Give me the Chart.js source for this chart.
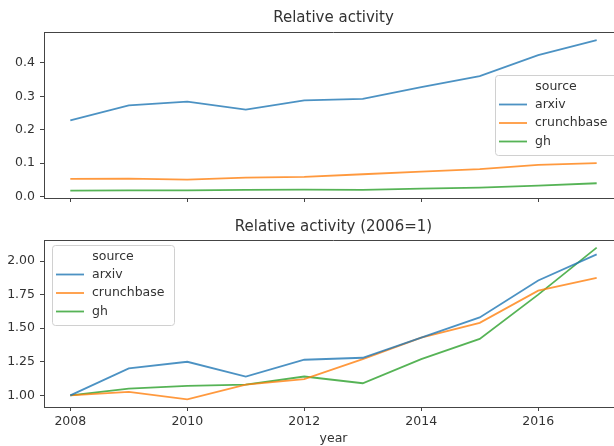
<!DOCTYPE html>
<html>
<head>
<meta charset="utf-8">
<script src="https://cdn.jsdelivr.net/npm/chart.js@4/dist/chart.umd.min.js"></script>
<style>
  html, body { margin: 0; padding: 0; background: #fff; overflow: hidden; width: 614px; height: 446px; }
  canvas { position: absolute; left: 0; }
  #top { top: 0; }
  #bottom { top: 215px; }
</style>
</head>
<body>
<canvas id="top" width="640" height="215"></canvas>
<canvas id="bottom" width="640" height="231"></canvas>
<script>
// данные
const years = [2008, 2009, 2010, 2011, 2012, 2013, 2014, 2015, 2016, 2017];
const sources = ['arxiv', 'crunchbase', 'gh'];

// доля активности
const shareArxiv      = [0.228, 0.273, 0.284, 0.260, 0.288, 0.292, 0.327, 0.360, 0.423, 0.468];
const shareCrunchbase = [0.053, 0.054, 0.051, 0.057, 0.059, 0.067, 0.075, 0.082, 0.095, 0.100];
const shareGh         = [0.018, 0.019, 0.019, 0.020, 0.021, 0.020, 0.024, 0.027, 0.033, 0.040];

// относительная активность (первый год = 1)
const relArxiv      = [1.00, 1.20, 1.25, 1.14, 1.265, 1.28, 1.43, 1.58, 1.855, 2.05];
const relCrunchbase = [1.00, 1.025, 0.97, 1.08, 1.12, 1.27, 1.43, 1.54, 1.78, 1.875];
const relGh         = [1.00, 1.05, 1.07, 1.08, 1.14, 1.09, 1.27, 1.42, 1.75, 2.10];

const yearTicks  = [2008, 2010, 2012, 2014, 2016];
const shareTicks = [0.0, 0.1, 0.2, 0.3, 0.4];
const relTicks   = [1.00, 1.25, 1.50, 1.75, 2.00];

const colors = ['rgba(31,119,180,0.8)', 'rgba(255,127,14,0.8)', 'rgba(44,160,44,0.8)'];
const axisColor = '#444';
const textColor = '#333';
const FONT = 'DejaVu Sans';

Chart.defaults.font.family = FONT;
Chart.defaults.color = textColor;

// рамка вокруг области графика (верх и право)
const framePlugin = {
	id: 'frame',
	afterDraw(chart){
		const a = chart.chartArea, ctx = chart.ctx;
		ctx.save();
		ctx.strokeStyle = axisColor;
		ctx.lineWidth = 1;
		ctx.beginPath();
		ctx.moveTo(a.left, Math.round(a.top) + 0.5);
		ctx.lineTo(a.right, Math.round(a.top) + 0.5);
		ctx.lineTo(a.right, a.bottom);
		ctx.stroke();
		ctx.restore();
	}
};

// легенда в стиле matplotlib
const mplLegendPlugin = {
	id: 'mplLegend',
	afterDatasetsDraw(chart, args, opts){
		const ctx = chart.ctx;
		const x = opts.x, y = opts.y, w = 122, h = 80;
		ctx.save();
		ctx.fillStyle = 'rgba(255,255,255,0.85)';
		ctx.strokeStyle = '#d0d0d0';
		ctx.lineWidth = 1;
		ctx.beginPath();
		ctx.roundRect(x + 0.5, y + 0.5, w, h, 3);
		ctx.fill();
		ctx.stroke();
		ctx.font = '12.5px ' + FONT;
		ctx.fillStyle = textColor;
		ctx.textBaseline = 'middle';
		ctx.textAlign = 'center';
		ctx.fillText(opts.title, x + w / 2, y + 11.5);
		ctx.textAlign = 'left';
		const rows = [29.5, 48, 66.5];
		chart.data.datasets.forEach((ds, i) => {
			const ry = y + rows[i];
			ctx.strokeStyle = ds.borderColor;
			ctx.lineWidth = 1.8;
			ctx.beginPath();
			ctx.moveTo(x + 4, ry);
			ctx.lineTo(x + 32, ry);
			ctx.stroke();
			ctx.fillStyle = textColor;
			ctx.fillText(ds.label, x + 40, ry);
		});
		ctx.restore();
	}
};

function makeChart(id, title, titlePad, series, yTicks, yDec, yMin, yMax, bottomAxis, legendPos){
	const datasets = series.map((vals, i) => ({
		label: sources[i],
		data: years.map((yr, j) => ({x: yr, y: vals[j]})),
		borderColor: colors[i],
		backgroundColor: colors[i],
		borderWidth: 1.8,
		pointRadius: 0,
		tension: 0,
		fill: false
	}));
	return new Chart(document.getElementById(id), {
		type: 'line',
		data: {datasets},
		options: {
			responsive: false,
			animation: false,
			devicePixelRatio: 1,
			layout: {padding: {left: 0, right: 17, top: 0, bottom: 0}},
			plugins: {
				legend: {display: false},
				tooltip: {enabled: false},
				title: {
					display: true,
					text: title,
					fullSize: false,
					color: textColor,
					font: {size: 15, weight: 'normal'},
					padding: titlePad
				},
				mplLegend: {x: legendPos.x, y: legendPos.y, title: 'source'}
			},
			scales: {
				x: {
					type: 'linear',
					min: 2007.55,
					max: 2017.45,
					afterBuildTicks: s => { s.ticks = yearTicks.map(v => ({value: v})); },
					afterFit: s => { s.height = bottomAxis ? 39 : 17; },
					grid: {drawOnChartArea: false, drawTicks: true, tickLength: 4, tickColor: axisColor, color: axisColor},
					border: {display: true, color: axisColor, width: 1},
					ticks: {
						color: bottomAxis ? textColor : 'rgba(0,0,0,0)',
						font: {size: 12.5},
						padding: 3,
						maxRotation: 0,
						callback: v => String(v)
					},
					title: {
						display: bottomAxis,
						text: 'year',
						color: textColor,
						font: {size: 12.5},
						padding: {top: 2, bottom: 0}
					}
				},
				y: {
					type: 'linear',
					min: yMin,
					max: yMax,
					afterBuildTicks: s => { s.ticks = yTicks.map(v => ({value: v})); },
					afterFit: s => { s.width = 44; },
					grid: {drawOnChartArea: false, drawTicks: true, tickLength: 4, tickColor: axisColor, color: axisColor},
					border: {display: true, color: axisColor, width: 1},
					ticks: {
						color: textColor,
						font: {size: 12.5},
						padding: 5,
						callback: v => Number(v).toFixed(yDec)
					}
				}
			}
		},
		plugins: [framePlugin, mplLegendPlugin]
	});
}

makeChart('top', 'Relative activity', {top: 9, bottom: 5},
	[shareArxiv, shareCrunchbase, shareGh], shareTicks, 1, -0.004, 0.492, false, {x: 495, y: 75});

makeChart('bottom', 'Relative activity (2006=1)', {top: 3, bottom: 4},
	[relArxiv, relCrunchbase, relGh], relTicks, 2, 0.913, 2.157, true, {x: 52, y: 30});
</script>
</body>
</html>
